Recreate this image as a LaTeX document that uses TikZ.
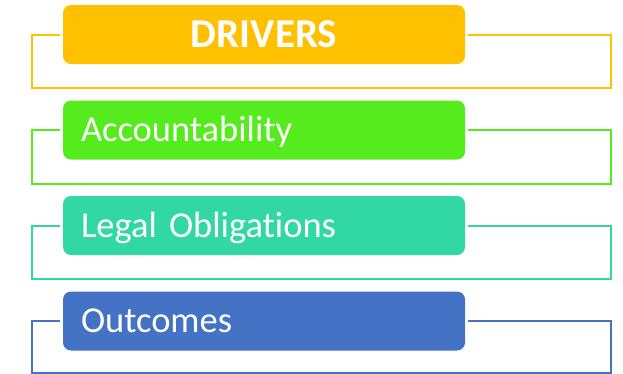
\documentclass[tikz,border=0pt]{standalone}
\usepackage{fontspec}
\setmainfont{Carlito}[Ligatures={NoCommon}]
\definecolor{cOrange}{HTML}{FFC000}
\definecolor{cGreen}{HTML}{55EB1C}
\definecolor{cTeal}{HTML}{31D8A1}
\definecolor{cBlue}{HTML}{4472C4}
\begin{document}
\begin{tikzpicture}[x=1pt,y=-1pt,
  box/.style={rounded corners=8pt, minimum width=402pt, minimum height=59pt,
    inner xsep=18pt, inner ysep=0pt, outer sep=3pt, text=white,
    font=\fontsize{36.5}{40}\selectfont, text height=27pt, text depth=4pt},
  lbox/.style={box, text width=366pt, align=left},
  frame/.style={line width=2pt}]
\useasboundingbox (0,0) rectangle (623,373);
% frame corners
\coordinate (f1l) at (32,88);
\coordinate (f1r) at (611,88);
\coordinate (f2l) at (32,183.5);
\coordinate (f2r) at (611,183.5);
\coordinate (f3l) at (32,278.5);
\coordinate (f3r) at (611,278.5);
\coordinate (f4l) at (32,372.5);
\coordinate (f4r) at (611,372.5);
% boxes
\node[box, fill=cOrange, align=center, font=\fontsize{41}{44}\selectfont\bfseries, text height=30pt, text depth=4pt] (b1) at (264,34.5) {DRIVERS};
\node[lbox, fill=cGreen] (b2) at (264,130) {Accountability};
\node[lbox, fill=cTeal] (b3) at (264,225.5) {Legal Obligations};
\node[lbox, fill=cBlue] (b4) at (264,321) {Outcomes};
% frames
\draw[frame, cOrange] (b1.west) -| (f1l) -- (f1r) |- (b1.east);
\draw[frame, cGreen] (b2.west) -| (f2l) -- (f2r) |- (b2.east);
\draw[frame, cTeal] (b3.west) -| (f3l) -- (f3r) |- (b3.east);
\draw[frame, cBlue] (b4.west) -| (f4l) -- (f4r) |- (b4.east);
\end{tikzpicture}
\end{document}
